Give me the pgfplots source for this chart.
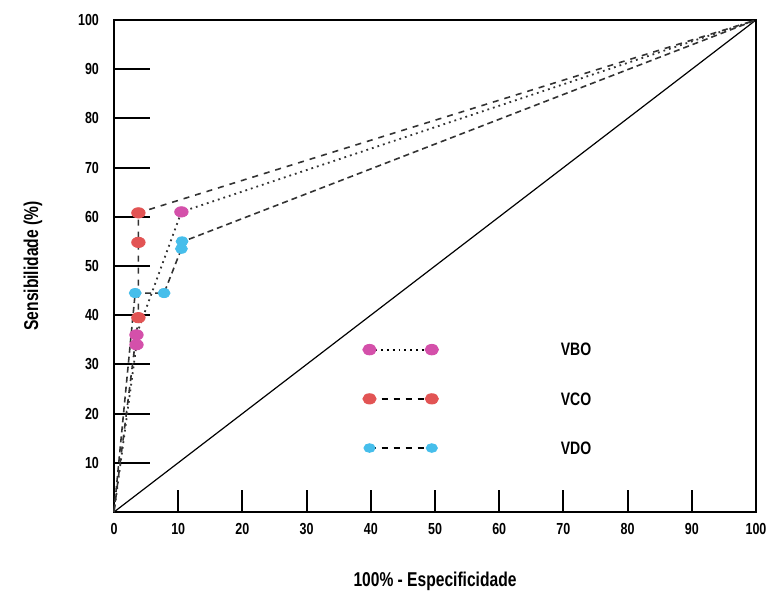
\documentclass[border=0pt]{standalone}
\usepackage{fontspec}
\setmainfont{Liberation Sans}
\newfontfamily\narrowbf[FakeStretch=0.78]{Liberation Sans Bold}
\usepackage{pgfplots}
\pgfplotsset{compat=1.18}

\definecolor{vbo}{RGB}{212,80,170}
\definecolor{vco}{RGB}{226,84,84}
\definecolor{vdo}{RGB}{70,190,235}

\begin{document}
\begin{tikzpicture}
\begin{axis}[
    scale only axis,
    width=321pt, height=246pt,
    xmin=0, xmax=100, ymin=0, ymax=100,
    xtick={0,10,...,100}, ytick={10,20,...,100},
    tick pos=left, tick align=inside,
    xtick style={/pgfplots/major tick length=11pt, line width=1pt, draw=black},
    ytick style={/pgfplots/major tick length=18pt, line width=1pt, draw=black},
    axis line style={line width=1pt},
    ticklabel style={font=\narrowbf\footnotesize},
    /pgf/number format/assume math mode=true,
    xticklabel style={yshift=-2pt},
    yticklabel style={xshift=-4pt},
    xlabel={100\% - Especificidade},
    ylabel={Sensibilidade (\%)},
    label style={font=\narrowbf\normalsize},
    xlabel style={yshift=-12pt},
    ylabel style={yshift=11pt},
    clip=false,
]
% diagonal de referencia
\addplot[black, line width=0.6pt] coordinates {(0,0) (100,100)};
% VBO
\addplot[black!80, dotted, line width=0.9pt] coordinates {(0,0) (3.5,34) (3.5,36) (10.5,61) (100,100)};
% VCO
\addplot[black!80, dashed, line width=0.8pt] coordinates {(0,0) (3.8,39.5) (3.8,54.8) (3.8,60.8) (100,100)};
% VDO
\addplot[black!80, dash pattern=on 3pt off 2pt, line width=0.8pt] coordinates {(0,0) (3.3,44.5) (7.8,44.5) (10.5,53.5) (10.8,55) (100,100)};
% marcadores
\addplot[only marks, mark=*, mark size=2.6pt, mark options={fill=vbo, draw=vbo, xscale=1.3}] coordinates {(3.5,34) (3.5,36) (10.5,61)};
\addplot[only marks, mark=*, mark size=2.6pt, mark options={fill=vco, draw=vco, xscale=1.3}] coordinates {(3.8,39.5) (3.8,54.8) (3.8,60.8)};
\addplot[only marks, mark=*, mark size=2.3pt, mark options={fill=vdo, draw=vdo, xscale=1.3}] coordinates {(3.3,44.5) (7.8,44.5) (10.5,53.5) (10.6,55)};
% legenda
\addplot[black, dotted, line width=0.9pt, mark=*, mark size=2.4pt, mark options={solid, fill=vbo, draw=vbo, xscale=1.3}] coordinates {(39.8,33) (49.5,33)};
\addplot[black, dashed, line width=0.8pt, mark=*, mark size=2.4pt, mark options={solid, fill=vco, draw=vco, xscale=1.3}] coordinates {(39.8,23) (49.5,23)};
\addplot[black, dashed, line width=0.8pt, mark=*, mark size=2.0pt, mark options={solid, fill=vdo, draw=vdo, xscale=1.3}] coordinates {(39.8,13) (49.5,13)};
\node[anchor=west, font=\narrowbf\small] at (axis cs:68.5,33) {VBO};
\node[anchor=west, font=\narrowbf\small] at (axis cs:68.5,23) {VCO};
\node[anchor=west, font=\narrowbf\small] at (axis cs:68.5,13) {VDO};
\coordinate (sw) at (rel axis cs:0,0);
\coordinate (ne) at (rel axis cs:1,1);
\end{axis}
\pgfresetboundingbox
\path ([shift={(-57pt,-40pt)}]sw) rectangle ([shift={(6pt,10pt)}]ne);
\end{tikzpicture}
\end{document}
